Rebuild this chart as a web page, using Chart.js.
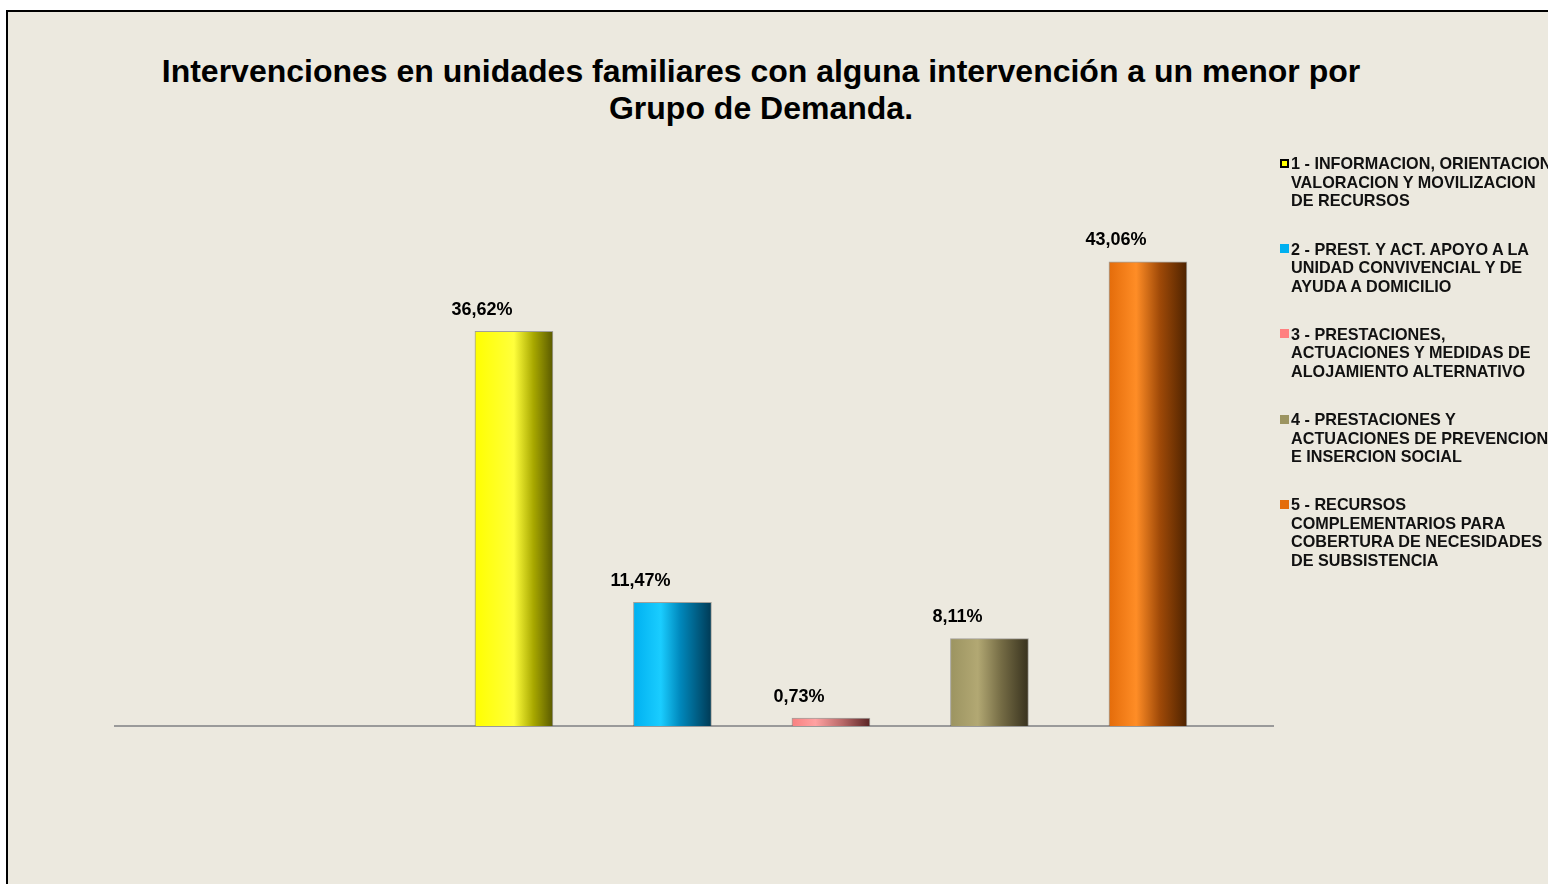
<!DOCTYPE html>
<html lang="es">
<head>
<meta charset="utf-8">
<title>Intervenciones por Grupo de Demanda</title>
<script src="https://cdn.jsdelivr.net/npm/chart.js@4.4.1/dist/chart.umd.min.js"></script>
<style>
  html, body { margin: 0; padding: 0; background: #fff; }
  body { width: 1548px; height: 884px; overflow: hidden; position: relative; font-family: 'Liberation Sans', Arial, sans-serif; }
  #marco { position: absolute; left: 6px; top: 10px; width: 1600px; height: 900px; border: 2px solid #000; background: #ECE9DF; }
  #grafico { position: absolute; left: 0; top: 0; }
  #titulo { position: absolute; left: 0; top: 53px; width: 1522px; text-align: center; font-weight: bold; font-size: 32px; line-height: 37px; color: #000; }
  #leyenda { position: absolute; left: 1280px; top: 154.3px; }
  .item { position: relative; padding-left: 11px; font-weight: bold; font-size: 16.2px; line-height: 18.5px; margin-bottom: 29.8px; white-space: nowrap; color: #111; }
  .marca { position: absolute; left: 0; top: 4.5px; width: 9px; height: 9px; box-sizing: border-box; }
</style>
</head>
<body>
<div id="marco"></div>
<div id="titulo"></div>
<canvas id="grafico" width="1548" height="884"></canvas>
<div id="leyenda"></div>
<script>
const tituloLineas = [
  'Intervenciones en unidades familiares con alguna intervención a un menor por',
  'Grupo de Demanda.'
];

// grupos de demanda, tal como se parten en la leyenda
const categorias = [
  ['1 - INFORMACION, ORIENTACION', 'VALORACION Y MOVILIZACION', 'DE RECURSOS'],
  ['2 - PREST. Y ACT. APOYO A LA', 'UNIDAD CONVIVENCIAL Y DE', 'AYUDA A DOMICILIO'],
  ['3 - PRESTACIONES,', 'ACTUACIONES Y MEDIDAS DE', 'ALOJAMIENTO ALTERNATIVO'],
  ['4 - PRESTACIONES Y', 'ACTUACIONES DE PREVENCION', 'E INSERCION SOCIAL'],
  ['5 - RECURSOS', 'COMPLEMENTARIOS PARA', 'COBERTURA DE NECESIDADES', 'DE SUBSISTENCIA']
];

const porcentajes = [36.62, 11.47, 0.73, 8.11, 43.06];

// colores: base y sombreado de cilindro (izq -> dcha)
const coloresBase = ['#FFFF00', '#00B0F0', '#FF8080', '#9C9461', '#E46C0A'];
const sombreados = [
  [[0, '#FFFF00'], [0.5, '#FFFF3C'], [0.75, '#A8A800'], [1, '#5A5A00']],
  [[0, '#00B0F0'], [0.35, '#1ACDFF'], [0.6, '#0088BC'], [1, '#003A55']],
  [[0, '#F88080'], [0.3, '#FFA2A2'], [0.65, '#B86868'], [1, '#5A2424']],
  [[0, '#9C9461'], [0.35, '#B2A873'], [0.65, '#756C45'], [1, '#38321E']],
  [[0, '#E46C0A'], [0.35, '#FF8D26'], [0.65, '#A04A08'], [1, '#4E2300']]
];

const huecosIniciales = 2;   // huecos vacíos a la izquierda del primer grupo
const anchoBarra = 78;

const formato = (v) => v.toFixed(2).replace('.', ',') + '%';

document.querySelector('#titulo').innerHTML = tituloLineas.join('<br>');

const leyenda = document.querySelector('#leyenda');
categorias.forEach((lineas, i) => {
  const item = document.createElement('div');
  item.className = 'item';
  const marca = document.createElement('span');
  marca.className = 'marca';
  marca.style.background = coloresBase[i];
  if (i === 0) marca.style.border = '2px solid #000';
  item.appendChild(marca);
  item.insertAdjacentHTML('beforeend', lineas.join('<br>'));
  leyenda.appendChild(item);
});

const etiquetasBarras = {
  id: 'etiquetasBarras',
  afterDatasetsDraw(chart) {
    const ctx = chart.ctx;
    const meta = chart.getDatasetMeta(0);
    ctx.save();
    ctx.font = 'bold 18px "Liberation Sans", Arial, sans-serif';
    ctx.fillStyle = '#000';
    ctx.textAlign = 'center';
    ctx.textBaseline = 'middle';
    meta.data.forEach((barra, i) => {
      ctx.fillText(formato(porcentajes[i]), barra.x - 32, barra.y - 21.5);
    });
    ctx.restore();
  }
};

function relleno(contexto) {
  const { chart, dataIndex, raw } = contexto;
  if (!chart.chartArea || !raw) return coloresBase[dataIndex] ?? coloresBase[0];
  const x = chart.scales.x.getPixelForValue(raw.x);
  const g = chart.ctx.createLinearGradient(x - anchoBarra / 2, 0, x + anchoBarra / 2, 0);
  sombreados[dataIndex].forEach(([p, c]) => g.addColorStop(p, c));
  return g;
}

new Chart(document.querySelector('#grafico'), {
  type: 'bar',
  data: {
    datasets: [
      {
        data: porcentajes.map((v, i) => ({ x: i + huecosIniciales + 0.5, y: v })),
        backgroundColor: relleno,
        borderColor: 'rgba(70,70,70,0.45)',
        borderWidth: 1,
        borderSkipped: 'bottom',
        barThickness: anchoBarra
      }
    ]
  },
  options: {
    responsive: false,
    animation: false,
    events: [],
    layout: { padding: { left: 115, right: 275, top: 187, bottom: 158 } },
    plugins: {
      legend: { display: false },
      tooltip: { enabled: false },
      title: { display: false }
    },
    scales: {
      x: {
        type: 'linear',
        offset: false,
        min: -0.017,
        max: 7.289,
        ticks: { display: false },
        grid: { display: false, drawTicks: false, offset: false },
        border: { display: true, color: '#9A9A9A', width: 2 }
      },
      y: { display: false, min: 0, max: 50 }
    }
  },
  plugins: [etiquetasBarras]
});
</script>
</body>
</html>
